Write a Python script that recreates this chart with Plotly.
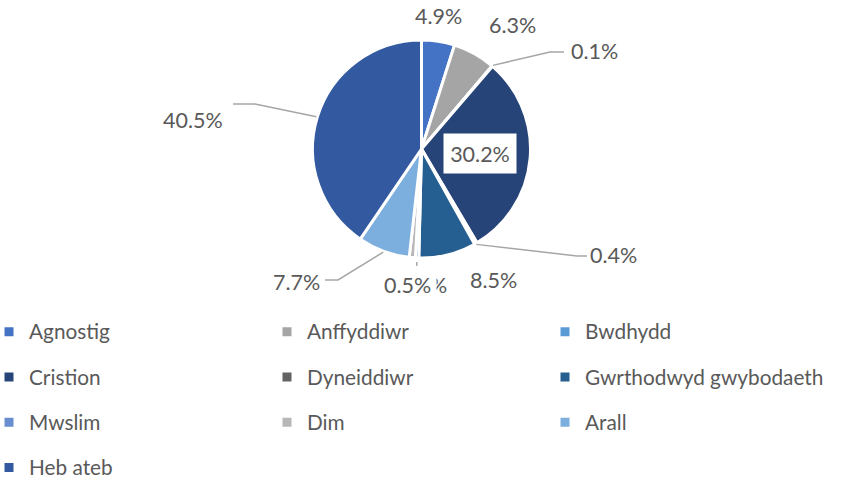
import math
import plotly.graph_objects as go

# ---------------- data ----------------
categories = ["Agnostig", "Anffyddiwr", "Bwdhydd", "Cristion", "Dyneiddiwr",
              "Gwrthodwyd gwybodaeth", "Mwslim", "Dim", "Arall", "Heb ateb"]
percent_values = [4.9, 6.3, 0.1, 30.2, 0.4, 8.5, 0.5, 0.9, 7.7, 40.5]
slice_colors = ["#4472C4", "#A5A5A5", "#5B9BD5", "#264478", "#636363",
                "#255E91", "#698ED0", "#B7B7B7", "#7CAFDD", "#335AA1"]

# ---------------- style / geometry ----------------
W, H = 846, 479
MB = 179                     # bottom margin: legend lives below the plot area
PH = H - MB                  # plot-area height in pixels
CX, CY, R = 421.5, 149.0, 109.0          # pie centre and radius (pixels)
FONT = "Lato"
TXT = "#595959"
LINE = "#A6A6A6"

# label placement (pixel style config), leader elbows / ends
label_style = {
    "Agnostig": dict(xy=(438, 16)),
    "Anffyddiwr": dict(xy=(512, 25)),
    "Bwdhydd": dict(xy=(594, 51), elbow=(550, 52), end=(564, 52)),
    "Cristion": dict(xy=(480, 153), box=True),
    "Dyneiddiwr": dict(xy=(613, 255), elbow=(577, 256), end=(587, 256)),
    "Gwrthodwyd gwybodaeth": dict(xy=(494, 280)),
    "Dim": dict(xy=(423, 285)),
    "Mwslim": dict(xy=(407, 285), tick=(4, 8), cover=True),
    "Arall": dict(xy=(296, 282), elbow=(338, 280), end=(325, 280)),
    "Heb ateb": dict(xy=(193, 120), elbow=(255, 104), end=(233, 104)),
}
draw_order = ["Agnostig", "Anffyddiwr", "Bwdhydd", "Cristion", "Dyneiddiwr",
              "Gwrthodwyd gwybodaeth", "Dim", "Mwslim", "Arall", "Heb ateb"]


def px(x):
    return x / W


def py(y):
    return (PH - y) / PH


def fmt(v):
    return f"{v:.1f}%"


total = sum(percent_values)
mid_angle = {}
cum = 0.0
for c, v in zip(categories, percent_values):
    mid_angle[c] = (cum + v / 2) / total * 360.0
    cum += v


def on_circle(ang, r):
    a = math.radians(ang)
    return CX + r * math.sin(a), CY - r * math.cos(a)


legend_labels = [
    f"<span style='font-size:20.8px;baseline-shift:5px'>{c}</span>" for c in categories
]

fig = go.Figure()
fig.add_trace(go.Pie(
    labels=legend_labels,
    values=percent_values,
    sort=False,
    direction="clockwise",
    rotation=0,
    marker=dict(colors=slice_colors, line=dict(color="white", width=3)),
    textinfo="none",
    hoverinfo="skip",
    domain=dict(x=[px(CX - R), px(CX + R)], y=[py(CY + R), py(CY - R)]),
))

annotations = []
shapes = []
for c in draw_order:
    st = label_style[c]
    v = percent_values[categories.index(c)]
    x, y = st["xy"]
    ann = dict(x=px(x), y=py(y), xref="paper", yref="paper", text=fmt(v),
               showarrow=False, xanchor="center", yanchor="middle",
               font=dict(family=FONT, size=21.5, color=TXT))
    if st.get("box"):
        ann.update(bgcolor="white", width=64, height=31, borderpad=4)
    if st.get("cover"):
        ann.update(bgcolor="white", borderpad=5)
    annotations.append(ann)

    ang = mid_angle[c]
    if "elbow" in st:
        sx, sy = on_circle(ang, R + 1)
        ex, ey = st["elbow"]
        fx, fy = st["end"]
        path = (f"M {px(sx)} {py(sy)} L {px(ex)} {py(ey)} L {px(fx)} {py(fy)}")
        shapes.append(dict(type="path", xref="paper", yref="paper", path=path,
                           line=dict(color=LINE, width=1.5)))
    if "tick" in st:
        r0, r1 = st["tick"]
        sx, sy = on_circle(ang, R + r0)
        ex, ey = on_circle(ang, R + r1)
        shapes.append(dict(type="line", xref="paper", yref="paper",
                           x0=px(sx), y0=py(sy), x1=px(ex), y1=py(ey),
                           line=dict(color=LINE, width=1.5)))

fig.update_layout(
    width=W, height=H,
    margin=dict(l=0, r=0, t=0, b=MB, autoexpand=False),
    paper_bgcolor="white", plot_bgcolor="white",
    annotations=annotations,
    shapes=shapes,
    showlegend=True,
    legend=dict(
        orientation="h",
        x=-11 / W, y=py(304), xanchor="left", yanchor="top",
        entrywidth=233, entrywidthmode="pixels",
        font=dict(family=FONT, size=32.5, color=TXT),
        traceorder="normal",
        bgcolor="rgba(0,0,0,0)",
    ),
    font=dict(family=FONT, color=TXT),
)

fig.write_html(
    "out.html",
    config={"displayModeBar": False},
    post_script="document.body.style.margin='0';document.body.style.overflow='hidden';",
)
